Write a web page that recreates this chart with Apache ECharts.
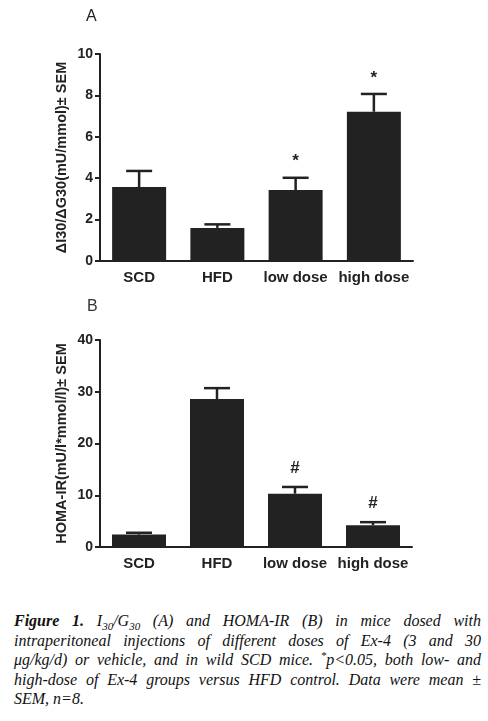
<!DOCTYPE html>
<html><head><meta charset="utf-8">
<script src="https://cdn.jsdelivr.net/npm/echarts@6/dist/echarts.min.js"></script>
<style>
body{margin:0;background:#fff;width:488px;height:721px;overflow:hidden;position:relative}
#chart{position:absolute;left:0;top:0;width:488px;height:600px}
#cap{position:absolute;left:14px;top:611px;width:467px;font-family:"Liberation Serif","DejaVu Serif",serif;font-style:italic;font-size:16px;line-height:19.5px;color:#111}
#cap .l{text-align:justify;text-align-last:justify}
#cap .last{text-align:left}
sub,sup{font-size:11px;line-height:0}
</style>
</head><body>
<div id="chart"></div>
<div id="cap">
<div class="l"><b>Figure 1.</b> I<sub>30</sub>/G<sub>30</sub> (A) and HOMA-IR (B) in mice dosed with</div>
<div class="l">intraperitoneal injections of different doses of Ex-4 (3 and 30</div>
<div class="l">μg/kg/d) or vehicle, and in wild SCD mice. <sup>*</sup>p&lt;0.05, both low- and</div>
<div class="l">high-dose of Ex-4 groups versus HFD control. Data were mean ±</div>
<div class="last">SEM, n=8.</div>
</div>
<script>
const categories = ['SCD', 'HFD', 'low dose', 'high dose'];
const ratioMean = [3.57, 1.60, 3.43, 7.21];
const ratioSem = [0.78, 0.17, 0.59, 0.86];
const ratioMarks = ['', '', '*', '*'];
const homaMean = [2.4, 28.6, 10.3, 4.2];
const homaSem = [0.35, 2.1, 1.3, 0.6];
const homaMarks = ['', '', '#', '#'];
const ratioAxis = {min: 0, max: 10, interval: 2};
const homaAxis = {min: 0, max: 40, interval: 10};

const INK = '#222';
const FONT = '"Liberation Sans", Arial, sans-serif';

function errRender(marks) {
  return function (params, api) {
    const i = api.value(0), m = api.value(1), s = api.value(2);
    const base = api.coord([i, m]);
    const top = api.coord([i, m + s]);
    const children = [
      {type: 'line', shape: {x1: base[0], y1: base[1], x2: top[0], y2: top[1]}, style: {stroke: INK, lineWidth: 2.5}},
      {type: 'line', shape: {x1: top[0] - 13, y1: top[1], x2: top[0] + 13, y2: top[1]}, style: {stroke: INK, lineWidth: 2.5}}
    ];
    const mk = marks[params.dataIndex];
    if (mk) {
      children.push({type: 'text', style: {text: mk, x: top[0], y: top[1] - (mk === '*' ? 16 : 19), align: 'center', verticalAlign: 'middle', font: 'bold 17px ' + FONT, fill: INK}});
    }
    return {type: 'group', children};
  };
}

function xAxisCfg(gi) {
  return {
    type: 'category', gridIndex: gi, data: categories,
    axisLine: {lineStyle: {color: INK, width: 2}},
    axisTick: {alignWithLabel: true, length: 4, lineStyle: {color: INK, width: 2}},
    axisLabel: {color: INK, fontWeight: 'bold', fontSize: 15, fontFamily: FONT, margin: 9, interval: 0}
  };
}
function yAxisCfg(gi, ax, name) {
  return {
    type: 'value', gridIndex: gi, min: ax.min, max: ax.max, interval: ax.interval,
    name: name, nameLocation: 'middle', nameGap: 31, nameRotate: 90, nameMoveOverlap: false,
    nameTextStyle: {color: INK, fontWeight: 'bold', fontSize: 14.5, fontFamily: FONT},
    axisLine: {show: true, lineStyle: {color: INK, width: 2}},
    axisTick: {show: true, length: 5, lineStyle: {color: INK, width: 2}},
    splitLine: {show: false},
    axisLabel: {color: INK, fontWeight: 'bold', fontSize: 14, fontFamily: FONT, margin: 7}
  };
}

const chart = echarts.init(document.getElementById('chart'));
chart.setOption({
  animation: false,
  backgroundColor: '#fff',
  graphic: [
    {type: 'text', left: 86, top: 9, style: {text: 'A', font: '16px ' + FONT, fill: INK}},
    {type: 'text', left: 87, top: 299, style: {text: 'B', font: '16px ' + FONT, fill: '#333'}}
  ],
  grid: [
    {left: 100, top: 54, width: 313, height: 207},
    {left: 100, top: 340, width: 312, height: 207}
  ],
  xAxis: [xAxisCfg(0), xAxisCfg(1)],
  yAxis: [yAxisCfg(0, ratioAxis, 'ΔI30/ΔG30(mU/mmol)± SEM'), yAxisCfg(1, homaAxis, 'HOMA-IR(mU/l*mmol/l)± SEM')],
  series: [
    {type: 'bar', xAxisIndex: 0, yAxisIndex: 0, data: ratioMean, barWidth: 54, itemStyle: {color: INK}},
    {type: 'custom', xAxisIndex: 0, yAxisIndex: 0, renderItem: errRender(ratioMarks), clip: false,
      data: categories.map((c, i) => [i, ratioMean[i], ratioSem[i]]), z: 3},
    {type: 'bar', xAxisIndex: 1, yAxisIndex: 1, data: homaMean, barWidth: 54, itemStyle: {color: INK}},
    {type: 'custom', xAxisIndex: 1, yAxisIndex: 1, renderItem: errRender(homaMarks), clip: false,
      data: categories.map((c, i) => [i, homaMean[i], homaSem[i]]), z: 3}
  ]
});
</script>
</body></html>
